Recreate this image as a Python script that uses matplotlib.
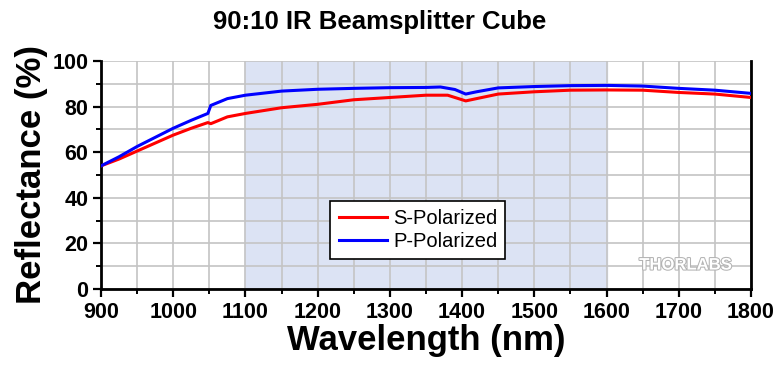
import matplotlib
matplotlib.use('Agg')
import matplotlib.pyplot as plt
import matplotlib.patheffects as pe
from matplotlib.ticker import MultipleLocator

plt.rcParams['font.family'] = ['Liberation Sans', 'DejaVu Sans']

# S-Polarized reflectance (%)
s_wl = [900, 925, 950, 975, 1000, 1025, 1048, 1052, 1075, 1100, 1150, 1200, 1250, 1300,
        1350, 1380, 1395, 1405, 1420, 1450, 1500, 1550, 1600, 1650, 1700, 1750, 1800]
s_ref = [54, 57, 60.5, 64, 67.5, 70.5, 73, 72.5, 75.5, 77, 79.5, 81, 83, 84,
         85, 85, 83.5, 82.5, 83.5, 85.5, 86.5, 87.2, 87.3, 87.2, 86.2, 85.5, 84]

# P-Polarized reflectance (%)
p_wl = [900, 925, 950, 975, 1000, 1025, 1048, 1052, 1075, 1100, 1150, 1200, 1250, 1300,
        1350, 1370, 1390, 1405, 1420, 1450, 1500, 1550, 1600, 1650, 1700, 1750, 1800]
p_ref = [54, 58, 62.5, 66.5, 70.5, 74, 77, 80.5, 83.5, 85, 86.8, 87.6, 88, 88.3,
         88.4, 88.6, 87.5, 85.5, 86.5, 88.2, 88.8, 89.2, 89.3, 89, 88, 87.2, 85.8]

fig = plt.figure(figsize=(7.8, 3.7), dpi=100)
ax = fig.add_axes([101 / 780, 81 / 370, 650 / 780, 228 / 370])

ax.axvspan(1100, 1600, color='#dce3f4', zorder=0)
ax.plot(s_wl, s_ref, color='#ff0000', lw=2.2, label='S-Polarized', zorder=3)
ax.plot(p_wl, p_ref, color='#0000ff', lw=2.2, label='P-Polarized', zorder=3)

ax.set_xlim(900, 1800)
ax.set_ylim(0, 100)
ax.xaxis.set_major_locator(MultipleLocator(100))
ax.xaxis.set_minor_locator(MultipleLocator(50))
ax.yaxis.set_major_locator(MultipleLocator(20))
ax.yaxis.set_minor_locator(MultipleLocator(10))
ax.grid(True, which='both', color='#c4c4c4', lw=1.2, zorder=1)
ax.set_axisbelow(True)

for side in ['left', 'bottom', 'right']:
    ax.spines[side].set_linewidth(2)
ax.spines['top'].set_visible(False)
ax.tick_params(which='major', length=6, width=1.6, direction='out', pad=3)
ax.tick_params(which='minor', length=3.5, width=1.4, direction='out')
for lab in ax.get_xticklabels() + ax.get_yticklabels():
    lab.set_fontweight('bold')
    lab.set_fontsize(15.5)

fig.text(380 / 780, 1 - 22 / 370, '90:10 IR Beamsplitter Cube', ha='center', va='center',
         fontsize=18.5, fontweight='bold')
ax.set_xlabel('Wavelength (nm)', fontsize=25, fontweight='bold', labelpad=1)
ax.set_ylabel('Reflectance (%)', fontsize=25, fontweight='bold', labelpad=3)

leg = ax.legend(loc='upper left', bbox_to_anchor=(0.353, 0.387), fontsize=14.5,
                frameon=True, fancybox=False, edgecolor='black', framealpha=1,
                handlelength=2.4, handletextpad=0.3, labelspacing=0.2,
                borderpad=0.4, borderaxespad=0)
leg.get_frame().set_linewidth(1.2)
for line in leg.get_lines():
    line.set_linewidth(2.2)

ax.text(0.97, 0.105, 'THORLABS', transform=ax.transAxes, ha='right', va='center',
        fontsize=12, fontweight='bold', color='white', zorder=4,
        path_effects=[pe.withStroke(linewidth=1.5, foreground='#b4b4b4')])

fig.savefig('out.png', dpi=100)
